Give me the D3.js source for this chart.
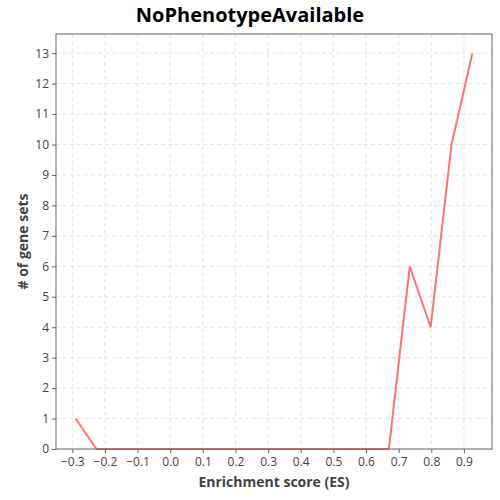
<!DOCTYPE html>
<html><head><meta charset="utf-8">
<script src="https://cdn.jsdelivr.net/npm/d3@7"></script>
<style>body{margin:0;background:#fff;font-family:"Open Sans","Noto Sans",sans-serif;}</style>
</head><body><div id="chart"></div>
<script>
const esValues = [-0.29, -0.226, -0.162, -0.098, -0.034, 0.030, 0.094, 0.158, 0.222, 0.286, 0.350, 0.414, 0.478, 0.542, 0.606, 0.670, 0.734, 0.798, 0.862, 0.926];
const geneSetCounts = [1, 0, 0, 0, 0, 0, 0, 0, 0, 0, 0, 0, 0, 0, 0, 0, 6, 4, 10, 13];
const xTicks = [-0.3, -0.2, -0.1, 0.0, 0.1, 0.2, 0.3, 0.4, 0.5, 0.6, 0.7, 0.8, 0.9];
const yTicks = [0, 1, 2, 3, 4, 5, 6, 7, 8, 9, 10, 11, 12, 13];
const title = "NoPhenotypeAvailable";
const xLabel = "Enrichment score (ES)";
const yLabel = "# of gene sets";

const W = 500, H = 500;
const m = {left: 56, right: 8, top: 34, bottom: 51};
const svg = d3.select("#chart").append("svg").attr("width", W).attr("height", H);
const x = d3.scaleLinear().domain([-0.35, 0.986]).range([m.left, W - m.right]);
const y = d3.scaleLinear().domain([0, 13.63]).range([H - m.bottom, m.top]);

// grid
const g = svg.append("g");
g.selectAll("line.vg").data(xTicks).join("line")
  .attr("x1", d => x(d)).attr("x2", d => x(d))
  .attr("y1", m.top).attr("y2", H - m.bottom)
  .attr("stroke", "#e3e3e3").attr("stroke-dasharray", "4,3");
g.selectAll("line.hg").data(yTicks).join("line")
  .attr("y1", d => y(d)).attr("y2", d => y(d))
  .attr("x1", m.left).attr("x2", W - m.right)
  .attr("stroke", "#e3e3e3").attr("stroke-dasharray", "4,3");

// line
const line = d3.line().x((d, i) => x(esValues[i])).y(d => y(d));
svg.append("path").datum(geneSetCounts).attr("d", line)
  .attr("fill", "none").attr("stroke", "#ff7373").attr("stroke-width", 2);

// border
svg.append("rect").attr("x", m.left).attr("y", m.top)
  .attr("width", W - m.right - m.left).attr("height", H - m.bottom - m.top)
  .attr("fill", "none").attr("stroke", "#666").attr("stroke-width", 1);

// axes
const xa = svg.append("g").attr("transform", `translate(0,${H - m.bottom})`)
  .call(d3.axisBottom(x).tickValues(xTicks).tickFormat(d3.format(".1f")).tickSize(4).tickPadding(4));
const ya = svg.append("g").attr("transform", `translate(${m.left},0)`)
  .call(d3.axisLeft(y).tickValues(yTicks).tickSize(4).tickPadding(3));
[xa, ya].forEach(a => {
  a.select(".domain").remove();
  a.selectAll(".tick line").attr("stroke", "#666");
  a.selectAll(".tick text").attr("fill", "#444").style("font-size", "12px")
    .style("font-family", '"Open Sans","Noto Sans",sans-serif');
});

svg.append("text").attr("x", W / 2).attr("y", 22).attr("text-anchor", "middle")
  .style("font-size", "20px").style("font-weight", "bold").attr("fill", "#000").text(title);
svg.append("text").attr("x", (m.left + W - m.right) / 2).attr("y", 487).attr("text-anchor", "middle")
  .style("font-size", "14px").style("font-weight", "bold").attr("fill", "#444").text(xLabel);
svg.append("text").attr("transform", `translate(28,${(m.top + H - m.bottom) / 2}) rotate(-90)`)
  .attr("text-anchor", "middle")
  .style("font-size", "14px").style("font-weight", "bold").attr("fill", "#444").text(yLabel);
</script></body></html>
